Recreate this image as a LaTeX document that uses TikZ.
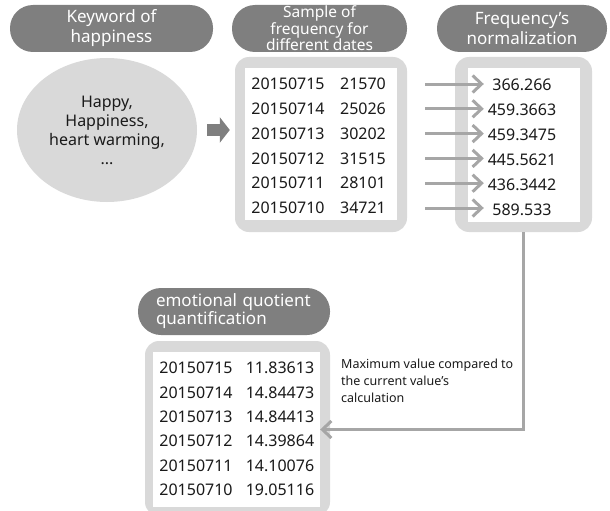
\documentclass[tikz,border=0pt]{standalone}
\usepackage{fontspec}
\setmainfont{Noto Sans}
\usetikzlibrary{arrows.meta}
\usetikzlibrary{shapes.geometric}
\definecolor{headgray}{RGB}{127,127,127}
\definecolor{panelgray}{RGB}{217,217,217}
\definecolor{flowgray}{RGB}{166,166,166}
\definecolor{inkgray}{RGB}{26,26,26}
\tikzset{>={Straight Barb[length=9pt,width=17pt]}}
\tikzset{
  header/.style={rectangle,rounded corners=23pt,fill=headgray,text=white,minimum height=47pt,inner sep=0pt,align=center,font=\fontsize{17}{20}\selectfont},
  panel/.style={rectangle,rounded corners=14pt,fill=panelgray,inner sep=0pt},
  sheet/.style={rectangle,fill=white,inner sep=0pt},
  entry/.style={inner sep=0pt,text=inkgray,font=\fontsize{16}{18}\selectfont},
  flow/.style={draw=flowgray,line width=3pt,->},
}

\begin{document}
\begin{tikzpicture}[x=1pt,y=-1pt]

  \useasboundingbox (0,0) rectangle (610,511);

  \coordinate (K) at (107,130);
  \coordinate (S) at (321,144.5);
  \coordinate (N) at (523.5,144.5);
  \coordinate (Q) at (237.5,428.5);

  % headers
  \node[header,minimum width=203pt] (keyhead) at (111.5,28.5) {Keyword of\\happiness};
  \node[header,minimum width=175pt,font=\fontsize{15.5}{14}\selectfont] (samplehead) at (319.5,28.5) {Sample of\\frequency for\\different dates};
  \node[header,minimum width=170pt] (normhead) at (522,28.5) {Frequency’s\\normalization};
  \node[header,minimum width=192pt,text width=156pt,align=left,font=\fontsize{17}{18}\selectfont] (quanthead) at (234,311.5) {emotional quotient\\quantification};

  % keyword ellipse
  \node[ellipse,fill=panelgray,minimum width=180pt,minimum height=144pt,align=center,text=inkgray,font=\fontsize{16}{19}\selectfont] (keyword) at (K) {Happy,\\Happiness,\\heart warming,\\...};

  % panels
  \node[panel,minimum width=172pt,minimum height=175pt] (sample) at (S) {};
  \node[sheet,minimum width=152pt,minimum height=152pt] (samplesheet) at (321,144) {};
  \node[panel,minimum width=137pt,minimum height=175pt] (norm) at (N) {};
  \node[sheet,minimum width=112pt,minimum height=154pt] (normsheet) at (524,145) {};
  \node[panel,minimum width=185pt,minimum height=175pt] (quant) at (Q) {};
  \node[sheet,minimum width=167pt,minimum height=155pt] (quantsheet) at (236.5,429.5) {};

  \foreach \d/\v [count=\i] in {20150715/21570,20150714/25026,20150713/30202,20150712/31515,20150711/28101,20150710/34721}{
    \node[entry] (sd\i) at (288,{84+24.8*(\i-1)}) {\d};
    \node[entry] (sv\i) at (363,{84+24.8*(\i-1)}) {\v};
  }

  \foreach \n [count=\i] in {366.266,459.3663,459.3475,445.5621,436.3442,589.533}{
    \node[entry,text width=76pt,align=center] (nv\i) at (522,{85+25*(\i-1)}) {\n};
  }

  \foreach \d/\v [count=\i] in {20150715/11.83613,20150714/14.84473,20150713/14.84413,20150712/14.39864,20150711/14.10076,20150710/19.05116}{
    \node[entry] (qd\i) at (196,{368+24.4*(\i-1)}) {\d};
    \node[entry] (qv\i) at (280,{368+24.4*(\i-1)}) {\v};
  }

  % arrows
  \draw[draw=headgray,line width=12pt,-{Triangle[length=10pt,width=25pt]},shorten <=10pt,shorten >=5pt] (keyword.east) -- (keyword.east -| sample.west);

  \foreach \i in {1,...,6}
    \draw[flow,shorten <=18pt] (sample.east |- sv\i) -- (nv\i.west |- sv\i);

  \draw[flow] (norm.south) |- (quantsheet.east);

  \node[anchor=north west,inner sep=0pt,align=left,text=inkgray,font=\fontsize{12.5}{17}\selectfont] (note) at (341,359) {Maximum value compared to\\the current value’s\\calculation};

\end{tikzpicture}
\end{document}
